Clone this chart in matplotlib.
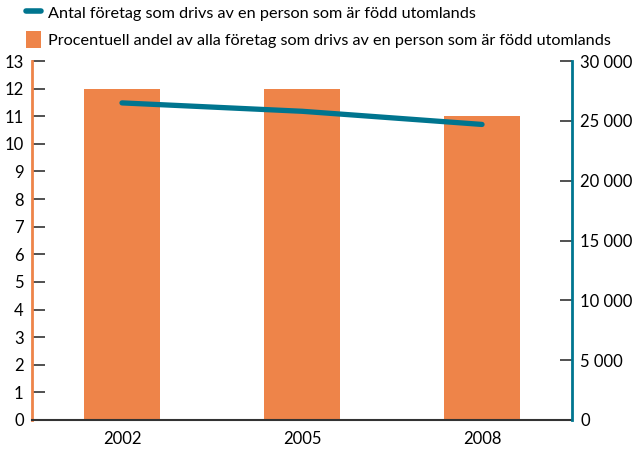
import matplotlib.pyplot as plt
from matplotlib.lines import Line2D
from matplotlib.patches import Patch
from matplotlib.ticker import FuncFormatter

# data
years = ['2002', '2005', '2008']
andel_procent = [12, 12, 11]
antal_foretag = [26500, 25800, 24700]

orange = '#EE8449'
teal = '#00758F'
plt.rcParams['font.family'] = ['Lato', 'DejaVu Sans']

fig = plt.figure(figsize=(6.35, 4.5), dpi=100)
ax = fig.add_axes([0.0504, 0.0667, 0.8504, 0.7977])
ax2 = ax.twinx()

x = range(len(years))
ax.bar(x, andel_procent, width=0.42, color=orange, zorder=2)
ax2.plot(x, antal_foretag, color=teal, linewidth=3.8, solid_capstyle='round', zorder=3)

ax.set_xlim(-0.5, 2.5)
ax.set_ylim(0, 13)
ax.set_yticks(range(0, 14))
ax2.set_ylim(0, 30000)
ax2.set_yticks(range(0, 30001, 5000))
ax2.yaxis.set_major_formatter(FuncFormatter(lambda v, p: f'{int(v):,}'.replace(',', ' ')))

ax.set_xticks(list(x))
ax.set_xticklabels(years)
ax.tick_params(axis='x', length=0, labelsize=12, pad=8)
ax.tick_params(axis='y', direction='in', length=9, width=1.2, color='#333333', labelsize=12, pad=6)
ax2.tick_params(axis='y', direction='in', length=9, width=1.2, color='#333333', labelsize=12, pad=6)

for a in (ax, ax2):
    a.spines['top'].set_visible(False)
ax2.spines['left'].set_visible(False)
ax2.spines['bottom'].set_visible(False)
ax.spines['right'].set_visible(False)
ax.spines['left'].set_color(orange)
ax.spines['left'].set_linewidth(2)
ax2.spines['right'].set_color(teal)
ax2.spines['right'].set_linewidth(2)
ax.spines['bottom'].set_color('#333333')
ax.spines['bottom'].set_linewidth(1.5)

handles = [
    Line2D([0], [0], color=teal, linewidth=4, solid_capstyle='round'),
    Patch(facecolor=orange),
]
labels = [
    'Antal företag som drivs av en person som är född utomlands',
    'Procentuell andel av alla företag som drivs av en person som är född utomlands',
]
fig.legend(handles, labels, loc='upper left', bbox_to_anchor=(0.025, 1.012), frameon=False,
           fontsize=11.7, handlelength=0.95, handleheight=1.2, handletextpad=0.45, labelspacing=0.6,
           borderaxespad=0.2)

fig.savefig('out.png', dpi=100)
